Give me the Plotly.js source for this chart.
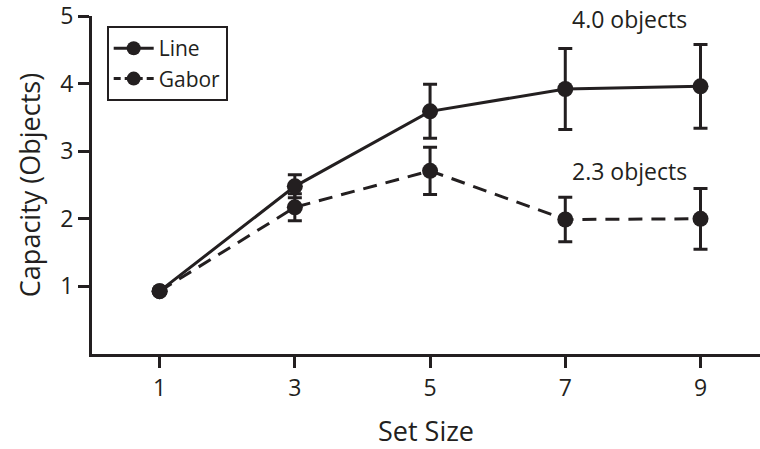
<!DOCTYPE html>
<html><head><meta charset="utf-8">
<script src="https://cdn.plot.ly/plotly-3.0.1.min.js"></script>
<style>html,body{margin:0;padding:0;background:#fff;}#chart{width:760px;height:449px;}</style>
</head><body><div id="chart"></div>
<script>
const setSizes = [1, 3, 5, 7, 9];
const lineCap = [0.93, 2.48, 3.59, 3.92, 3.96];
const lineErr = [0, 0.17, 0.40, 0.60, 0.62];
const gaborCap = [0.93, 2.17, 2.71, 1.99, 2.00];
const gaborErr = [0, 0.20, 0.35, 0.33, 0.45];
const xTicks = [1, 3, 5, 7, 9];
const yTicks = [1, 2, 3, 4, 5];
const annText = ["4.0 objects", "2.3 objects"];
const annY = [4.95, 2.7];
const annX = [7.95, 7.95];

const C = '#231f20';
const FONT = 'Open Sans, sans-serif';
const traces = [
  {x: setSizes, y: gaborCap, name: 'Gabor', type: 'scatter', mode: 'lines+markers', showlegend: false,
   line: {color: C, width: 3, dash: '14px,9px'}, marker: {color: C, size: 16},
   error_y: {type: 'data', array: gaborErr, visible: true, color: C, thickness: 3, width: 7}},
  {x: setSizes, y: lineCap, name: 'Line', type: 'scatter', mode: 'lines+markers', showlegend: false,
   line: {color: C, width: 3}, marker: {color: C, size: 16},
   error_y: {type: 'data', array: lineErr, visible: true, color: C, thickness: 3, width: 7}},
  {x: [null], y: [null], name: 'Gabor', type: 'scatter', mode: 'lines+markers',
   line: {color: C, width: 3, dash: '7px,4px'}, marker: {color: C, size: 14}},
  {x: [null], y: [null], name: 'Line', type: 'scatter', mode: 'lines+markers',
   line: {color: C, width: 3}, marker: {color: C, size: 14}}
];
const layout = {
  width: 760, height: 449,
  margin: {l: 92, r: 0, t: 16, b: 95},
  paper_bgcolor: '#fff', plot_bgcolor: '#fff',
  font: {family: FONT, color: C, size: 22},
  showlegend: true,
  legend: {x: 0.022, y: 0.97, xanchor: 'left', yanchor: 'top', traceorder: 'reversed',
           bordercolor: C, borderwidth: 2, bgcolor: '#fff', font: {size: 21, family: FONT, color: C},
           itemwidth: 40, tracegroupgap: 0},
  xaxis: {range: [0, 9.88], tickvals: xTicks, ticktext: xTicks.map(String),
          showgrid: false, zeroline: false, showline: true, linecolor: C, linewidth: 3,
          ticks: 'outside', ticklen: 11, tickwidth: 3, tickcolor: C, ticklabeloverflow: 'allow',
          tickfont: {size: 23, family: FONT, color: C},
          title: {text: 'Set Size', font: {size: 27, family: FONT, color: C}, standoff: 22}},
  yaxis: {range: [0, 5], tickvals: yTicks, ticktext: yTicks.map(String),
          showgrid: false, zeroline: false, showline: true, linecolor: C, linewidth: 3,
          ticks: 'outside', ticklen: 11, tickwidth: 3, tickcolor: C, ticklabeloverflow: 'allow',
          tickfont: {size: 23, family: FONT, color: C},
          title: {text: 'Capacity (Objects)', font: {size: 27, family: FONT, color: C}, standoff: 12}},
  annotations: annText.map((t, i) => ({x: annX[i], y: annY[i], xref: 'x', yref: 'y', text: t,
     showarrow: false, font: {size: 23, family: FONT, color: C}}))
};
Plotly.newPlot('chart', traces, layout, {displayModeBar: false, staticPlot: true});
</script></body></html>
